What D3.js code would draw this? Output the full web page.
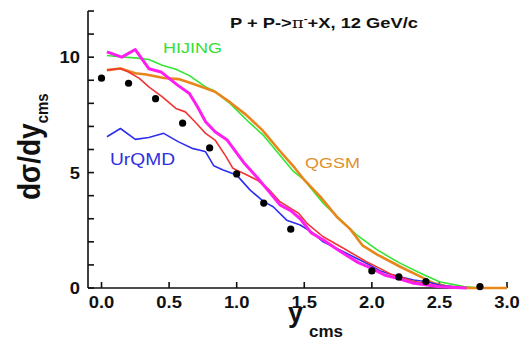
<!DOCTYPE html>
<html><head><meta charset="utf-8">
<script src="https://cdn.jsdelivr.net/npm/d3@7"></script>
<style>body{margin:0;background:#fff}svg{display:block}text{font-family:"Liberation Sans",Arial,sans-serif;font-weight:bold}</style>
</head><body><svg id="c" width="521" height="341"></svg>
<script>
// ---- data ----
const xTicks = [0.0, 0.5, 1.0, 1.5, 2.0, 2.5, 3.0];
const xTickLabels = ["0.0", "0.5", "1.0", "1.5", "2.0", "2.5", "3.0"];
const yTicksMajor = [0, 5, 10];
const yTicksMinor = [0,1,2,3,4,5,6,7,8,9,10,11,12];

const dataX = [0, 0.2, 0.4, 0.6, 0.8, 1.0, 1.2, 1.4, 2.0, 2.2, 2.4, 2.8];
const dataY = [9.09, 8.87, 8.2, 7.14, 6.07, 4.94, 3.68, 2.55, 0.74, 0.48, 0.28, 0.06];

const hijingX = [0.04,0.15,0.25,0.35,0.45,0.55,0.65,0.77,0.83,0.95,1.07,1.2,1.32,1.42,1.5,1.64,1.77,1.89,2.04,2.2,2.36,2.5,2.68,2.8];
const hijingY = [10.07,10.01,9.97,9.9,9.65,9.48,9.2,8.71,8.55,8.0,7.3,6.6,5.75,5.05,4.68,3.67,2.94,2.29,1.65,1.1,0.64,0.27,0.06,0.0];

const qgsmX = [0.04,0.14,0.25,0.33,0.46,0.57,0.66,0.77,0.84,0.95,1.07,1.19,1.31,1.43,1.5,1.62,1.74,1.84,1.93,2.04,2.21,2.36,2.46,2.56,2.7,3.0];
const qgsmY = [9.44,9.51,9.3,9.25,9.1,9.05,8.88,8.65,8.5,8.05,7.5,6.84,6.0,5.2,4.68,3.95,3.09,2.55,1.85,1.45,0.92,0.49,0.2,0.06,0.0,0.0];

const urqmdX = [0.04,0.14,0.25,0.35,0.46,0.57,0.67,0.73,0.77,0.83,0.9,1.0,1.1,1.2,1.27,1.37,1.47,1.55,1.64,1.79,1.96,2.06,2.14,2.2,2.31,2.41,2.5,2.68];
const urqmdY = [6.55,6.91,6.44,6.52,6.7,6.33,6.05,5.97,5.9,5.3,5.11,4.89,4.24,3.74,3.52,2.94,2.73,2.44,2.0,1.57,1.07,0.75,0.6,0.5,0.35,0.27,0.13,0.0];

const redX = [0.04,0.14,0.2,0.28,0.35,0.45,0.55,0.62,0.7,0.77,0.84,0.92,0.97,1.0,1.05,1.15,1.23,1.32,1.4,1.46,1.52,1.64,1.79,1.96,2.06,2.14,2.2,2.3,2.5,2.7];
const redY = [9.44,9.51,9.36,9.08,8.71,8.28,7.78,7.63,7.15,6.7,6.41,5.7,5.2,5.1,4.97,4.68,4.32,3.74,3.45,3.23,2.8,2.22,1.72,1.14,0.85,0.6,0.5,0.3,0.08,0.0];

const magX = [0.04,0.15,0.25,0.35,0.44,0.56,0.65,0.71,0.77,0.84,0.93,1.05,1.15,1.23,1.32,1.4,1.47,1.55,1.65,1.77,1.9,2.0,2.1,2.2,2.3,2.5,2.7];
const magY = [10.23,10.0,10.33,9.5,9.36,8.8,8.43,7.85,7.2,6.77,6.41,5.45,4.8,4.24,3.6,3.35,3.0,2.4,2.05,1.57,1.1,0.85,0.55,0.4,0.22,0.05,0.0];

// ---- chart ----
const svg = d3.select("#c");
const x = d3.scaleLinear().domain([-0.1, 3.0]).range([88, 507]);
const y = d3.scaleLinear().domain([0, 12]).range([288, 11]);

// axes
const ax = svg.append("g").attr("stroke", "#111").attr("stroke-width", 1.6);
ax.append("line").attr("x1", x(-0.1)).attr("x2", x(3.0)).attr("y1", y(0)).attr("y2", y(0));
ax.append("line").attr("x1", x(-0.1)).attr("x2", x(-0.1)).attr("y1", y(0)).attr("y2", y(12));
ax.selectAll(".xt").data(xTicks).enter().append("line")
  .attr("x1", d => x(d)).attr("x2", d => x(d)).attr("y1", y(0)).attr("y2", y(0) - 6);
ax.selectAll(".yt").data(yTicksMinor).enter().append("line")
  .attr("x1", x(-0.1)).attr("x2", x(-0.1) + 6).attr("y1", d => y(d)).attr("y2", d => y(d));

svg.selectAll(".xl").data(xTicks).enter().append("text")
  .attr("transform", d => `translate(${x(d)},308) scale(1.15,1)`)
  .attr("text-anchor", "middle").attr("font-size", 16).attr("fill", "#111")
  .text((d, i) => xTickLabels[i]);
svg.selectAll(".yl").data(yTicksMajor).enter().append("text")
  .attr("transform", d => `translate(80,${y(d) + 6}) scale(1.15,1)`)
  .attr("text-anchor", "end").attr("font-size", 16).attr("fill", "#111")
  .text(d => d);

// curves
const line = d3.line().x(d => x(d[0])).y(d => y(d[1])).curve(d3.curveLinear);
const series = [
  {xs: hijingX, ys: hijingY, c: "#33e633", w: 1.6},
  {xs: qgsmX, ys: qgsmY, c: "#e8861c", w: 2.6},
  {xs: urqmdX, ys: urqmdY, c: "#2f2ff0", w: 1.6},
  {xs: redX, ys: redY, c: "#f03535", w: 1.6},
  {xs: magX, ys: magY, c: "#ff1ef0", w: 3}
];
series.forEach(s => {
  svg.append("path").datum(s.xs.map((v, i) => [v, s.ys[i]]))
    .attr("d", line).attr("fill", "none").attr("stroke", s.c)
    .attr("stroke-width", s.w).attr("stroke-linejoin", "round");
});

svg.selectAll(".dot").data(dataX.map((v, i) => [v, dataY[i]])).enter().append("circle")
  .attr("cx", d => x(d[0])).attr("cy", d => y(d[1])).attr("r", 3.6).attr("fill", "#000");

// labels
function lab(t, px, py, c, fs) {
  svg.append("text").attr("transform", `translate(${px},${py}) scale(1.2,1)`)
    .attr("font-size", fs).attr("fill", c).style("font-weight", "normal").text(t);
}
lab("HIJING", 163, 53, "#35e035", 15);
lab("UrQMD", 110, 165, "#3030e0", 16);
lab("QGSM", 305, 168, "#e0902c", 15);

// title
const ti = svg.append("text").attr("x", 230).attr("y", 28).attr("font-size", 14.5).attr("fill", "#111")
  .attr("textLength", 188).attr("lengthAdjust", "spacingAndGlyphs");
ti.append("tspan").text("P + P->");
ti.append("tspan").style("font-family", "'DejaVu Serif',serif").style("font-weight", "normal").text("π");
ti.append("tspan").attr("dy", -6).attr("font-size", 9).text("-");
ti.append("tspan").attr("dy", 6).text("+X, 12 GeV/c");

// y title
const yt = svg.append("text").attr("transform", "translate(40,200) rotate(-90) scale(1,1.1)")
  .attr("font-size", 28).attr("fill", "#111");
yt.append("tspan").text("dσ/dy");
yt.append("tspan").attr("font-size", 15).attr("dy", 7).text("cms");

// x title
const xt = svg.append("text").attr("x", 288).attr("y", 322).attr("font-size", 27).attr("fill", "#111");
xt.append("tspan").text("y");
xt.append("tspan").attr("x", 309).attr("y", 337).attr("font-size", 17).text("cms");
</script></body></html>
